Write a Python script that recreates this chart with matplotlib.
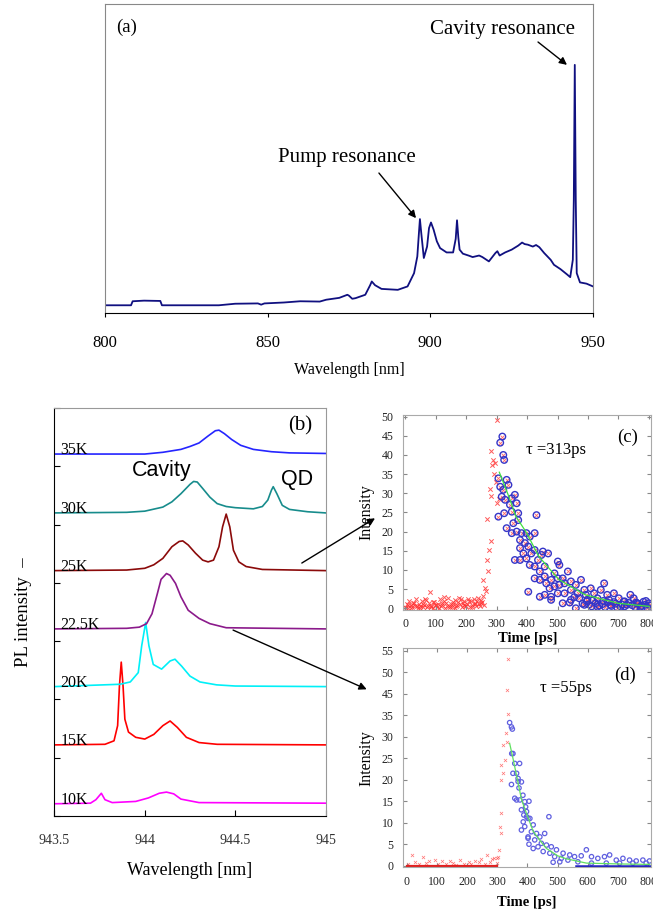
import numpy as np
import matplotlib
matplotlib.use('Agg')
import matplotlib.pyplot as plt
from matplotlib.patches import ConnectionPatch

plt.rcParams['font.family'] = ['Liberation Serif', 'DejaVu Serif']
plt.rcParams['mathtext.fontset'] = 'stix'

# ---- (a) broad PL spectrum ----
a_wl = [800, 808, 808.5, 812, 817, 817.5, 825, 835, 840, 847, 848, 849, 855, 860, 866, 868,
        872, 874.5, 875, 876, 877, 880, 881.5, 882, 883, 885, 890, 893, 895, 896, 896.5,
        896.8, 897.2, 898, 899, 899.6, 900.2, 901, 902, 903, 905, 907, 907.8, 908.2, 908.6,
        909, 910, 912, 913, 915, 916, 918, 920, 920.6, 921.3, 923, 925, 927, 928.2, 929,
        930, 931.5, 932.5, 933.5, 935, 937, 938, 940, 942, 943, 943.8, 944.1, 944.4, 944.7,
        945, 946, 947, 948, 950]
a_int = [2.5, 2.5, 3.8, 4.0, 3.9, 2.5, 2.5, 2.5, 3.0, 3.1, 2.7, 3.1, 3.4, 3.8, 3.7, 4.3,
         4.9, 5.9, 5.6, 4.6, 4.8, 5.9, 9.0, 10.2, 9.0, 7.8, 7.5, 8.6, 12.9, 18.3, 26.0,
         30.4, 26.0, 17.8, 21.5, 27.5, 29.3, 27.0, 23.2, 21.0, 19.6, 19.6, 24.0, 30.0, 24.5,
         20.5, 19.2, 18.5, 18.1, 18.6, 18.1, 16.7, 19.4, 20.0, 18.6, 19.6, 20.5, 21.8, 22.8, 22.3,
         22.1, 21.5, 22.0, 21.3, 19.4, 17.2, 15.6, 14.2, 12.5, 11.6, 17.2, 36.6, 80.3, 36.6,
         12.9, 9.9, 9.7, 9.5, 8.6]

# ---- (b) temperature series (heights above each baseline) ----
temps = ['10K', '15K', '20K', '22.5K', '25K', '30K', '35K']
offsets = [0.21, 1.22, 2.22, 3.21, 4.21, 5.20, 6.21]
colors_b = ['#ff00ff', '#ff0000', '#00f0f8', '#8b1a8b', '#8b0a0a', '#178c8c', '#2525ff']

wl_10 = [943.5, 943.7, 943.73, 943.76, 943.78, 943.82, 943.95, 944.02, 944.08, 944.12, 944.16, 944.2, 944.3, 945]
pl_10 = [0.0, 0.01, 0.07, 0.18, 0.07, 0.02, 0.04, 0.10, 0.18, 0.20, 0.17, 0.08, 0.02, 0.01]
wl_15 = [943.5, 943.78, 943.83, 943.85, 943.86, 943.87, 943.88, 943.89, 943.91, 943.95, 944.0,
         944.05, 944.1, 944.14, 944.18, 944.23, 944.3, 944.4, 945]
pl_15 = [0.0, 0.01, 0.07, 0.33, 1.01, 1.42, 1.01, 0.44, 0.22, 0.13, 0.10,
         0.18, 0.33, 0.41, 0.30, 0.13, 0.04, 0.01, 0.0]
wl_20 = [943.5, 943.863, 943.92, 943.964, 943.983, 944.005, 944.023, 944.047, 944.093, 944.14,
         944.167, 944.204, 944.25, 944.305, 944.397, 944.5, 945]
pl_20 = [0.0, 0.04, 0.08, 0.24, 0.70, 1.10, 0.70, 0.38, 0.30, 0.44,
         0.47, 0.35, 0.18, 0.08, 0.03, 0.01, 0.0]
wl_22 = [943.5, 943.9, 943.97, 944.01, 944.04, 944.07, 944.09, 944.12, 944.14, 944.17, 944.2,
         944.24, 944.3, 944.36, 944.45, 945]
pl_22 = [0.0, 0.01, 0.03, 0.09, 0.26, 0.61, 0.85, 0.95, 0.92, 0.78, 0.55,
         0.32, 0.18, 0.09, 0.02, 0.0]
wl_25 = [943.5, 943.9, 944.0, 944.05, 944.1, 944.15, 944.19, 944.21, 944.24, 944.28, 944.32,
         944.35, 944.38, 944.41, 944.43, 944.45, 944.47, 944.49, 944.52, 944.56, 944.65, 945]
pl_25 = [0.0, 0.01, 0.04, 0.10, 0.21, 0.41, 0.50, 0.51, 0.44, 0.30, 0.18,
         0.15, 0.18, 0.41, 0.75, 0.97, 0.75, 0.35, 0.15, 0.07, 0.02, 0.0]
wl_30 = [943.5, 943.9, 944.0, 944.1, 944.15, 944.2, 944.25, 944.27, 944.29, 944.32, 944.36,
         944.4, 944.45, 944.5, 944.6, 944.65, 944.68, 944.7, 944.71, 944.73, 944.76, 944.8,
         944.9, 945]
pl_30 = [0.0, 0.01, 0.03, 0.10, 0.19, 0.33, 0.49, 0.54, 0.53, 0.42, 0.27,
         0.16, 0.11, 0.09, 0.07, 0.11, 0.22, 0.39, 0.45, 0.33, 0.13, 0.06,
         0.02, 0.0]
wl_35 = [943.5, 944.0, 944.1, 944.2, 944.25, 944.3, 944.35, 944.39, 944.41, 944.44, 944.48,
         944.53, 944.6, 944.7, 944.8, 945]
pl_35 = [0.0, 0.0, 0.03, 0.08, 0.13, 0.19, 0.31, 0.40, 0.41, 0.35, 0.25,
         0.15, 0.08, 0.04, 0.02, 0.01]
b_wl = [wl_10, wl_15, wl_20, wl_22, wl_25, wl_30, wl_35]
b_pl = [pl_10, pl_15, pl_20, pl_22, pl_25, pl_30, pl_35]

# ---- (c) time-resolved PL, tau = 313 ps ----
c_red_t = [0, 5, 9, 14, 18, 23, 27, 32, 36, 41, 45, 50, 54, 59, 63, 68, 72, 77, 80, 86,
           90, 95, 99, 104, 108, 113, 117, 122, 126, 131, 135, 140, 144, 149, 153, 158, 162,
           167, 171, 176, 180, 185, 189, 194, 198, 203, 207, 212, 216, 221, 225, 230, 234,
           239, 243, 248, 252, 257, 261, 265,
           2, 11, 20, 30, 39, 48, 57, 66, 75, 84, 93, 102, 111, 120, 129, 138, 147, 156, 165,
           174, 183, 192, 201, 210, 219, 228, 237, 246, 250, 259,
           255, 268, 270, 271, 276, 277, 282, 282, 283, 285, 288, 290, 295, 301, 307, 298, 303]
c_red_i = [0.4, 1.2, 0.2, 2.0, 0.8, 0.3, 1.5, 0.6, 2.3, 0.1, 1.0, 0.5, 1.8, 0.3, 0.9, 2.1,
           0.4, 1.3, 4.2, 0.7, 0.2, 1.6, 0.9, 0.3, 1.1, 2.4, 0.5, 0.8, 1.9, 0.2, 1.4, 2.6,
           0.6, 1.0, 0.3, 1.7, 2.2, 0.5, 0.9, 2.8, 1.2, 0.4, 1.5, 2.0, 0.7, 1.1, 2.5, 0.3,
           1.8, 0.9, 2.3, 1.4, 0.6, 2.7, 1.0, 2.2, 1.6, 3.1, 5.3, 4.4,
           0.2, 0.8, 0.1, 1.3, 0.5, 0.0, 1.1, 2.4, 0.6, 0.3, 1.7, 0.9, 0.2, 1.4, 2.9, 0.7,
           0.4, 1.2, 0.1, 1.6, 2.3, 0.8, 0.5, 1.9, 0.3, 1.0, 2.0, 0.6, 1.5, 0.9,
           7.5, 12.7, 23.4, 9.6, 15.3, 31.1, 17.5, 29.2, 41.1, 37.4, 38.7, 35.0, 37.8, 49.0,
           28.6, 33.0, 27.5]
c_fit_t = [319, 312, 322, 325, 306, 333, 312, 322, 339, 317, 328, 350, 344, 306, 325, 360,
           366, 350, 371, 333, 355, 371, 431, 350, 366, 382, 398, 377, 393, 409, 425, 377,
           388, 404, 414, 425, 360, 377, 398, 436, 452, 469, 447, 409, 425, 442, 458, 501,
           506, 404, 425, 442, 458, 463, 479, 490, 501, 517, 534, 474, 490, 506, 523, 544,
           560, 577, 442, 458, 479, 501, 523, 544, 566, 588, 609, 593, 620, 653, 642, 663,
           685, 544, 571, 598, 631, 669, 701, 739, 750, 717, 761, 782, 799, 588, 631, 674,
           707, 728, 560, 772, 479, 517,
           603, 612, 625, 637, 648, 656, 664, 677, 690, 696, 711, 720, 733, 745, 755, 766,
           777, 788, 794, 805, 615, 650, 685, 720, 758, 790, 540, 555, 582, 596]
c_fit_i = [44.8, 43.2, 40.0, 38.7, 33.9, 33.5, 31.7, 30.9, 32.2, 29.1, 28.3, 28.7, 27.0,
           23.9, 24.8, 29.6, 27.4, 25.2, 24.8, 20.9, 22.2, 23.0, 24.3, 19.6, 20.0, 19.6,
           19.6, 17.8, 17.0, 18.7, 19.6, 15.7, 14.3, 16.1, 14.3, 15.2, 12.6, 12.6, 13.0,
           12.6, 14.8, 14.3, 13.9, 11.3, 10.9, 9.6, 10.9, 12.2, 11.3, 4.3, 7.8, 7.4, 8.3,
           6.5, 7.4, 9.1, 7.8, 7.8, 9.6, 5.2, 5.7, 6.1, 6.5, 7.0, 6.1, 7.4, 3.0, 3.5, 3.0,
           3.9, 3.9, 4.8, 3.9, 4.8, 5.2, 3.5, 3.9, 6.5, 4.8, 3.5, 3.9, 2.2, 2.6, 2.2, 2.6,
           2.2, 2.6, 3.5, 2.6, 1.7, 1.3, 1.7, 1.3, 0.9, 0.4, 0.9, 0.4, 0.9, 0.0, 0.4, 2.2, 1.3,
           1.0, 0.5, 1.3, 0.7, 1.1, 0.3, 1.5, 0.6, 1.2, 0.2, 1.0, 0.5, 1.4, 0.8, 0.3, 1.1,
           0.6, 0.9, 0.2, 0.7, 2.0, 1.9, 1.6, 1.8, 1.5, 1.9, 1.5, 2.9, 1.2, 1.8]
c_line_t = [309, 341, 363, 396, 439, 504, 591, 699, 800]
c_line_i = [35.5, 29.0, 24.0, 20.0, 13.5, 7.5, 3.5, 1.3, 0.5]

# ---- (d) time-resolved PL, tau = 55 ps ----
d_red_t = [5, 17, 28, 40, 55, 63, 75, 94, 104, 118, 130, 142, 155, 163, 178, 190, 205, 214,
           228, 240, 247, 258, 266, 275, 283, 290, 298, 302,
           336, 331, 336, 328, 333, 319, 325, 314, 319, 312, 314, 308, 311, 306, 298]
d_red_i = [0.4, 2.6, 0.8, 0.3, 2.0, 0.6, 1.2, 1.4, 0.5, 1.0, 0.3, 1.1, 0.7, 0.2, 1.3, 0.5,
           0.9, 0.4, 1.0, 0.8, 1.6, 0.5, 2.4, 0.9, 1.5, 1.7, 0.6, 2.0,
           48.2, 40.9, 35.2, 31.0, 28.8, 28.1, 24.6, 23.4, 21.5, 19.9, 12.2, 9.1, 7.5, 3.7, 1.7]
d_red_zero_t = [0, 300]
d_fit_t = [341, 347, 350, 352, 348, 358, 352, 364, 369, 369, 347, 372, 358, 364, 375, 380,
           394, 388, 397, 386, 402, 391, 380, 402, 405, 374, 380, 385, 391, 405, 397, 408,
           419, 413, 430, 441, 457, 471, 424, 446, 463, 479, 435, 419, 402, 452, 474, 496,
           518, 540, 490, 512, 534, 556, 578, 595, 612, 633, 655, 672, 694, 716, 738, 760,
           782, 804, 567, 612, 661, 705, 749, 793, 507, 485]
d_fit_i = [33.3, 32.3, 31.8, 26.1, 26.1, 23.8, 21.5, 21.5, 20.3, 19.6, 18.9, 18.1, 15.7,
           15.3, 15.3, 13.0, 13.7, 11.8, 11.4, 10.2, 11.0, 9.1, 8.3, 6.7, 5.0, 23.8, 19.5,
           16.4, 14.9, 15.0, 12.6, 11.0, 9.5, 7.9, 7.5, 6.7, 7.5, 11.4, 6.0, 5.2, 4.8, 4.4,
           4.4, 4.0, 6.4, 3.3, 2.9, 3.7, 2.9, 2.5, 2.1, 1.7, 1.3, 2.1, 2.3, 3.7, 2.1, 1.7,
           2.1, 2.5, 1.3, 1.7, 1.3, 1.1, 1.3, 1.1, 0.9, 0.6, 0.6, 0.6, 0.6, 0.6, 0.9, 0.8]
d_blue_zero_t = [560, 808]
d_line_t = [341, 352, 366, 380, 395, 419, 440, 463, 500, 529, 595, 705, 805]
d_line_i = [28.5, 25.0, 20.3, 15.5, 12.5, 8.0, 6.0, 4.0, 2.3, 1.6, 0.6, 0.4, 0.3]
d_ytick_labels = ['0', '5', '10', '15', '20', '25', '30', '35', '45', '50', '55']

W, H = 653, 911


def box(left, top, right, bottom):
    # pixel box -> figure fraction rect
    return [left / W, 1 - bottom / H, (right - left) / W, (bottom - top) / H]


fig = plt.figure(figsize=(W / 100, H / 100), dpi=100)

# ---------------- panel (a) ----------------
ax_a = fig.add_axes(box(105, 4, 593, 313))
ax_a.plot(a_wl, a_int, color='#101080', lw=1.3)
ax_a.set_xlim(800, 950)
ax_a.set_ylim(0, 100)
ax_a.set_yticks([])
ax_a.set_xticks([800, 850, 900, 950])
ax_a.tick_params(axis='x', direction='out', length=3, pad=13, labelsize=12)
for s in ['top', 'right', 'left']:
    ax_a.spines[s].set_color('#888888')
ax_a.set_xlabel('Wavelength [nm]', fontsize=11.5, labelpad=8)
ax_a.text(806.5, 92.6, '(a)', fontsize=13.5, ha='center', va='center')
ax_a.text(922.3, 91.6, 'Cavity resonance', fontsize=15, ha='center', va='center')
ax_a.text(874.4, 50.2, 'Pump resonance', fontsize=15, ha='center', va='center')
arrow_kw = dict(arrowstyle='-|>', color='black', lw=1, mutation_scale=11, shrinkA=0, shrinkB=0)
ax_a.annotate('', xy=(942.0, 80.3), xytext=(933.1, 87.7), arrowprops=arrow_kw)
ax_a.annotate('', xy=(895.6, 30.7), xytext=(884.2, 45.3), arrowprops=arrow_kw)

# ---------------- panel (b) ----------------
ax_b = fig.add_axes(box(54.3, 408, 325.7, 816))
for wl, pl, off, col, lab in zip(b_wl, b_pl, offsets, colors_b, temps):
    ax_b.plot(wl, np.array(pl) + off, color=col, lw=1.2)
    ax_b.text(943.535, off, lab, fontsize=11.5, ha='left', va='baseline')
ax_b.set_xlim(943.5, 945)
ax_b.set_ylim(0, 7)
ax_b.set_yticks(range(8))
ax_b.set_yticklabels([])
ax_b.set_xticks([943.5, 944, 944.5, 945])
ax_b.set_xticklabels(['943.5', '944', '944.5', '945'])
ax_b.tick_params(direction='in', length=4, labelsize=10, labelcolor='#333333')
ax_b.tick_params(axis='x', pad=13)
ax_b.tick_params(axis='y', pad=2)
ax_b.spines['top'].set_color('#999999')
ax_b.spines['right'].set_color('#999999')
ax_b.set_xlabel('Wavelength [nm]', fontsize=13, labelpad=11)
ax_b.set_ylabel('PL intensity  \u2013', fontsize=13.5, labelpad=14)
ax_b.text(944.86, 6.69, '(b)', fontsize=15, ha='center', va='center')
ax_b.text(944.095, 5.93, 'Cavity', fontsize=15.5, family='Liberation Sans', ha='center', va='center')
ax_b.text(944.84, 5.78, 'QD', fontsize=15.5, family='Liberation Sans', ha='center', va='center')


def style_tr(ax):
    for s in ax.spines.values():
        s.set_color('#aaaaaa')
        s.set_linewidth(0.8)
    ax.set_xticks(range(0, 900, 100))
    ax.tick_params(direction='in', length=3, color='#888888', labelsize=8.5,
                   labelcolor='#222222', top=True, right=True)
    ax.tick_params(axis='x', pad=6)
    ax.tick_params(axis='y', pad=7)


# ---------------- panel (c) ----------------
ax_c = fig.add_axes(box(403.3, 415.1, 651.4, 609.8))
ax_c.scatter(c_red_t, c_red_i, marker='x', s=10, color='#ff3030', lw=0.7, alpha=0.8)
ax_c.scatter(c_fit_t, c_fit_i, marker='x', s=7, color='#ff4040', lw=0.6, alpha=0.8)
ax_c.scatter(c_fit_t, c_fit_i, marker='o', s=22, facecolor='none', edgecolor='#3535c8', lw=1.0)
ax_c.plot(c_line_t, c_line_i, color='#40e040', lw=0.9)
ax_c.set_xlim(-6, 808)
ax_c.set_ylim(-0.4, 50.4)
ax_c.set_yticks(range(0, 55, 5))
style_tr(ax_c)
ax_c.set_xlabel('Time [ps]', fontsize=10.5, fontweight='bold', labelpad=1)
ax_c.set_ylabel('Intensity', fontsize=11.5, labelpad=5)
ax_c.text(731, 44.7, '(c)', fontsize=13.5, ha='center', va='center')
ax_c.text(495, 41.3, '\u03c4 =313ps', fontsize=12, ha='center', va='center')

# ---------------- panel (d) ----------------
ax_d = fig.add_axes(box(403.3, 648.3, 650.7, 867.4))
ax_d.plot(d_red_zero_t, [0, 0], color='#e02020', lw=1.6)
ax_d.plot(d_blue_zero_t, [0, 0], color='#2020c0', lw=1.8)
ax_d.scatter(d_red_t, d_red_i, marker='x', s=5, color='#ff5050', lw=0.5, alpha=0.8)
ax_d.scatter(d_fit_t, d_fit_i, marker='o', s=10, facecolor='none', edgecolor='#6060e0', lw=0.9)
ax_d.plot(d_line_t, d_line_i, color='#60e060', lw=0.9)
ax_d.set_xlim(-11, 808)
ax_d.set_ylim(-0.4, 50.6)
ax_d.set_yticks(range(0, 55, 5))
ax_d.set_yticklabels(d_ytick_labels)
style_tr(ax_d)
ax_d.set_xlabel('Time [ps]', fontsize=10.5, fontweight='bold', labelpad=6)
ax_d.set_ylabel('Intensity', fontsize=11.5, labelpad=5)
ax_d.text(723, 44.3, '(d)', fontsize=13.5, ha='center', va='center')
ax_d.text(527, 41.3, '\u03c4 =55ps', fontsize=12, ha='center', va='center')

# arrows from (b) to the decay curves
for xy_b, end in [((944.868, 4.34), (375 / W, 1 - 518.3 / H)),
                  ((944.488, 3.19), (366.7 / W, 1 - 689.3 / H))]:
    con = ConnectionPatch(xyA=xy_b, coordsA=ax_b.transData, xyB=end, coordsB='figure fraction',
                          arrowstyle='-|>', color='black', lw=1, mutation_scale=11)
    fig.add_artist(con)

fig.savefig('out.png', dpi=100)
